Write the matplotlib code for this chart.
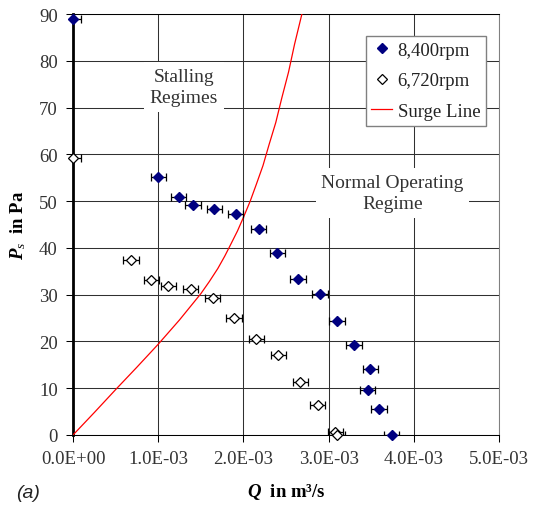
import matplotlib
matplotlib.use("Agg")
import matplotlib.pyplot as plt
from matplotlib.lines import Line2D
from matplotlib.ticker import FuncFormatter, MultipleLocator

plt.rcParams['font.family'] = ['Liberation Serif', 'DejaVu Serif']
plt.rcParams['mathtext.fontset'] = 'custom'
plt.rcParams['mathtext.rm'] = 'Liberation Serif'
plt.rcParams['mathtext.it'] = 'Liberation Serif:italic'
plt.rcParams['mathtext.bf'] = 'Liberation Serif:bold'
plt.rcParams['mathtext.bfit'] = 'Liberation Serif:bold:italic'

# 8,400 rpm (filled diamonds)
q_8400 = [0.0, 1.00, 1.24, 1.41, 1.66, 1.91, 2.18, 2.40, 2.64, 2.90, 3.10, 3.30, 3.49, 3.46, 3.59, 3.74]
p_8400 = [88.9, 55.2, 50.9, 49.2, 48.3, 47.2, 44.0, 39.0, 33.4, 30.1, 24.4, 19.3, 14.2, 9.6, 5.6, 0.0]

# 6,720 rpm (open diamonds)
q_6720 = [0.0, 0.68, 0.92, 1.12, 1.38, 1.64, 1.89, 2.15, 2.41, 2.67, 2.87, 3.08, 3.10]
p_6720 = [59.2, 37.5, 33.1, 31.8, 31.3, 29.2, 25.1, 20.5, 17.0, 11.4, 6.4, 0.7, 0.0]

# horizontal error (same for every point)
q_err = 0.09

# surge line
surge_q = [0, 0.25, 0.5, 0.75, 1.0, 1.25, 1.5, 1.6, 1.7, 1.78, 1.85, 1.93, 2.0, 2.08, 2.15,
           2.23, 2.3, 2.38, 2.45, 2.53, 2.6, 2.7]
surge_p = [0, 4.8, 9.7, 14.5, 19.4, 24.6, 30.2, 32.8, 35.6, 38.2, 40.7, 43.6, 46.5, 50.0, 53.5,
           57.6, 62.0, 66.8, 72.0, 77.6, 83.5, 91.0]

scale = 1e-3
navy = '#000080'
fig = plt.figure(figsize=(5.35, 5.10), dpi=100)
ax = fig.add_axes([73 / 535, 1 - 436 / 510, 426 / 535, 421 / 510])

x84 = [q * scale for q in q_8400]
x67 = [q * scale for q in q_6720]
for xs, ys in [(x84, p_8400), (x67, p_6720)]:
    ax.errorbar(xs, ys, xerr=q_err * scale, fmt='none', ecolor='black', elinewidth=0.9,
                capsize=2.6, capthick=0.9, zorder=4)
ax.plot(x84, p_8400, ls='none', marker='D', ms=5, color=navy, mec=navy, zorder=5, clip_on=False)
ax.plot(x67, p_6720, ls='none', marker='D', ms=5, mfc='white', mec='black', mew=0.9,
        zorder=5, clip_on=False)
ax.plot([q * scale for q in surge_q], surge_p, color='red', lw=0.9, zorder=3)

ax.set_xlim(0, 5e-3)
ax.set_ylim(0, 90)
ax.xaxis.set_major_locator(MultipleLocator(1e-3))
ax.yaxis.set_major_locator(MultipleLocator(10))
ax.xaxis.set_major_formatter(FuncFormatter(lambda v, p: f"{v:.1E}"))
ax.grid(True, color='#303030', lw=0.75, zorder=0)
ax.set_axisbelow(True)

for s in ['top', 'bottom']:
    ax.spines[s].set_color('black')
    ax.spines[s].set_linewidth(0.75)
ax.spines['right'].set_color('#808080')
ax.spines['right'].set_linewidth(0.75)
ax.spines['left'].set_color('black')
ax.spines['left'].set_linewidth(2)

ax.tick_params(direction='out', length=5, width=0.75, color='black',
               labelsize=13.5, labelcolor='#333333', pad=6)

ax.set_xlabel(r"$\mathbfit{Q}$  in m³/s", fontsize=13.5, fontweight='bold', labelpad=10)
ax.set_ylabel(r"$\mathbfit{P}_\mathit{s}$  in Pa", fontsize=13.5, fontweight='bold', labelpad=8)

box = dict(facecolor='white', edgecolor='none', pad=4)
ax.text(1.30e-3, 74.4, "Stalling\nRegimes", fontsize=14, color='#333333', linespacing=1.35,
        ha='center', va='center', bbox=box, zorder=6)
ax.text(3.75e-3, 51.7, "Normal Operating\nRegime", fontsize=14, color='#333333', linespacing=1.35,
        ha='center', va='center', bbox=box, zorder=6)

handles = [
    Line2D([], [], ls='none', marker='D', ms=5, color=navy, mec=navy),
    Line2D([], [], ls='none', marker='D', ms=5, mfc='white', mec='black', mew=0.9),
    Line2D([], [], color='red', lw=0.9),
]
labels = ['8,400rpm', '6,720rpm', 'Surge Line']
leg = ax.legend(handles, labels, loc='upper right', bbox_to_anchor=(0.969, 0.948), borderaxespad=0,
                fontsize=13.5, frameon=True, fancybox=False, framealpha=1,
                edgecolor='#808080', handlelength=1.1, handletextpad=0.3,
                labelspacing=0.72, borderpad=0.3)
leg.get_frame().set_linewidth(1)
leg.set_zorder(7)
for t in leg.get_texts():
    t.set_color('#222222')

fig.text(28 / 535, 1 - 494 / 510, "(a)", fontsize=14, family='Liberation Sans',
         style='italic', ha='center', va='center', color='#222222')

fig.savefig("out.png", dpi=100)
